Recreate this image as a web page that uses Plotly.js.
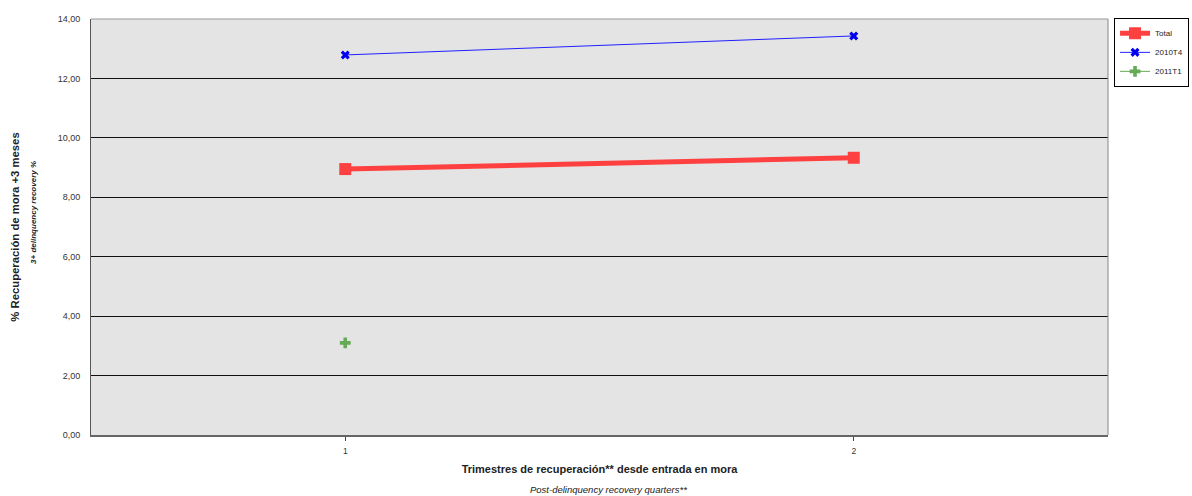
<!DOCTYPE html>
<html>
<head>
<meta charset="utf-8">
<script src="https://cdn.plot.ly/plotly-3.0.1.min.js"></script>
<style>html,body{margin:0;padding:0;background:#fff;}#chart{width:1192px;height:496px;}</style>
</head>
<body>
<div id="chart"></div>
<script>
var quarters = [1, 2];
var seriesNames = ['Total', '2010T4', '2011T1'];
var total = [8.95, 9.33];
var t2010T4 = [12.79, 13.43];
var t2011T1 = [3.10, null];
var yTicks = [0, 2, 4, 6, 8, 10, 12, 14];
var yTickLabels = ['0,00', '2,00', '4,00', '6,00', '8,00', '10,00', '12,00', '14,00'];

var font = 'Liberation Sans, Arial, sans-serif';

var traces = [
  {x: quarters, y: total, name: seriesNames[0], type: 'scatter', mode: 'lines+markers',
   line: {color: '#ff4040', width: 5}, marker: {symbol: 'square', size: 12, color: '#ff4040'}},
  {x: quarters, y: t2010T4, name: seriesNames[1], type: 'scatter', mode: 'lines+markers',
   line: {color: '#2020ff', width: 1}, marker: {symbol: 'x', size: 8, color: '#0000ee'}},
  {x: quarters, y: t2011T1, name: seriesNames[2], type: 'scatter', mode: 'lines+markers',
   line: {color: '#66aa55', width: 1}, marker: {symbol: 'cross', size: 9, color: '#66aa55'}}
];

var layout = {
  width: 1192, height: 496,
  margin: {l: 91, r: 84, t: 19, b: 61},
  paper_bgcolor: '#ffffff',
  plot_bgcolor: '#e4e4e4',
  font: {family: font, color: '#333'},
  showlegend: true,
  legend: {xref: 'container', yref: 'container', x: 0.9346, y: 0.964, xanchor: 'left', yanchor: 'top',
    bgcolor: '#ffffff', bordercolor: '#000', borderwidth: 1,
    font: {size: 8, color: '#222', family: font}, tracegroupgap: 0, itemwidth: 30},
  xaxis: {
    range: [0.5, 2.5], tickvals: quarters, ticktext: ['1', '2'],
    ticks: 'outside', ticklen: 4, tickcolor: '#444', tickwidth: 1,
    showgrid: false, zeroline: false,
    showline: true, linecolor: '#666', linewidth: 2,
    tickfont: {size: 8.5, color: '#333'}, ticklabelstandoff: 3,
    title: {text: '<b>Trimestres de recuperación** desde entrada en mora</b>', font: {size: 11, color: '#222'}, standoff: 10}
  },
  yaxis: {
    range: [0, 14], tickvals: yTicks, ticktext: yTickLabels,
    ticks: '', showgrid: true, gridcolor: '#111', gridwidth: 1,
    zeroline: false, showline: true, linecolor: '#555', linewidth: 1, mirror: false,
    tickfont: {size: 9, color: '#333'}, ticklabelstandoff: 8,
    title: {text: '<b>% Recuperación de mora +3 meses</b>', font: {size: 11.3, color: '#222'}, standoff: 35}
  },
  shapes: [
    {type: 'line', xref: 'paper', yref: 'paper', x0: 0, x1: 1, y0: 1, y1: 1, line: {color: '#999', width: 1}},
    {type: 'line', xref: 'paper', yref: 'paper', x0: 1, x1: 1, y0: 0, y1: 1, line: {color: '#888', width: 1}}
  ],
  annotations: [
    {text: '<b><i>3+ delinquency recovery %</i></b>', xref: 'paper', yref: 'paper',
     x: -0.056, y: 0.534, xanchor: 'center', yanchor: 'middle', textangle: -90, showarrow: false,
     font: {size: 8, color: '#222'}},
    {text: '<i>Post-delinquency recovery quarters**</i>', xref: 'paper', yref: 'paper',
     x: 0.5085, y: -0.13, xanchor: 'center', yanchor: 'middle', showarrow: false,
     font: {size: 9.5, color: '#222'}}
  ]
};

Plotly.newPlot('chart', traces, layout, {displayModeBar: false, staticPlot: true});
</script>
</body>
</html>
